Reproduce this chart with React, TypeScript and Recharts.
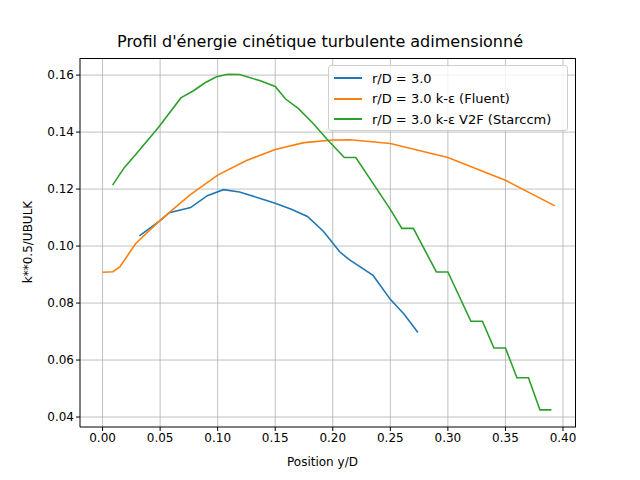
import { LineChart, Line, XAxis, YAxis, CartesianGrid } from 'recharts';

const X_TICKS = [0, 0.05, 0.1, 0.15, 0.2, 0.25, 0.3, 0.35, 0.4];
const Y_TICKS = [0.04, 0.06, 0.08, 0.1, 0.12, 0.14, 0.16];

const blueX = [0.032, 0.05, 0.058, 0.0765, 0.091, 0.105, 0.119, 0.137, 0.15, 0.164, 0.178, 0.192, 0.206, 0.214, 0.235, 0.25, 0.262, 0.274];
const blueY = [0.1036, 0.1089, 0.1117, 0.1135, 0.1177, 0.1198, 0.119, 0.1167, 0.115, 0.1129, 0.1104, 0.1051, 0.098, 0.0953, 0.0897, 0.0813, 0.0761, 0.0697];

const orangeX = [0, 0.009, 0.015, 0.029, 0.05, 0.0757, 0.1, 0.125, 0.15, 0.175, 0.2, 0.215, 0.25, 0.3, 0.351, 0.393];
const orangeY = [0.0908, 0.091, 0.0927, 0.101, 0.109, 0.1179, 0.1249, 0.13, 0.1339, 0.1363, 0.1372, 0.1373, 0.136, 0.1311, 0.1229, 0.1141];

const greenX = [0.0087, 0.019, 0.029, 0.049, 0.068, 0.079, 0.089, 0.099, 0.109, 0.119, 0.137, 0.15, 0.159, 0.17, 0.183, 0.195, 0.21, 0.22, 0.25, 0.26, 0.27, 0.29, 0.3, 0.32, 0.33, 0.34, 0.35, 0.36, 0.37, 0.38, 0.39];
const greenY = [0.1214, 0.1276, 0.1322, 0.1419, 0.152, 0.1545, 0.1573, 0.1594, 0.1603, 0.1602, 0.158, 0.156, 0.1516, 0.1483, 0.143, 0.1375, 0.1311, 0.1311, 0.1129, 0.1062, 0.1062, 0.0909, 0.0909, 0.0736, 0.0736, 0.0642, 0.0642, 0.0538, 0.0538, 0.0425, 0.0425];

const SERIES = [
  { name: 'r/D = 3.0', color: '#1f77b4', xs: blueX, ys: blueY },
  { name: 'r/D = 3.0 k-ε (Fluent)', color: '#ff7f0e', xs: orangeX, ys: orangeY },
  { name: 'r/D = 3.0 k-ε V2F (Starccm)', color: '#2ca02c', xs: greenX, ys: greenY },
];

const font = '"DejaVu Sans", sans-serif';

export default function App() {
  return (
    <div style={{ position: 'absolute', left: 0, top: 0, width: 640, height: 480, background: '#fff', fontFamily: font }}>
      <div style={{ position: 'absolute', top: 32, width: 640, textAlign: 'center', fontSize: 16 }}>
        Profil d'énergie cinétique turbulente adimensionné
      </div>
      <LineChart width={640} height={480} margin={{ top: 58, right: 64, bottom: 23, left: 20 }}>
        <CartesianGrid stroke="#b0b0b0" strokeWidth={0.8} horizontalValues={Y_TICKS} verticalValues={X_TICKS} />
        <XAxis
          type="number"
          dataKey="x"
          domain={[-0.0196, 0.4113]}
          ticks={X_TICKS}
          tickFormatter={(v) => v.toFixed(2)}
          allowDataOverflow
          height={30}
          stroke="#000"
          tick={{ fill: '#000', fontSize: 12, fontFamily: font }}
          tickSize={4}
        />
        <YAxis
          type="number"
          dataKey="y"
          domain={[0.0365, 0.166]}
          ticks={Y_TICKS}
          tickFormatter={(v) => v.toFixed(2)}
          allowDataOverflow
          width={60}
          stroke="#000"
          tick={{ fill: '#000', fontSize: 12, fontFamily: font }}
          tickSize={4}
        />
        {SERIES.map((s) => (
          <Line
            key={s.name}
            data={s.xs.map((x, i) => ({ x, y: s.ys[i] }))}
            dataKey="y"
            type="linear"
            stroke={s.color}
            strokeWidth={1.6}
            dot={false}
            isAnimationActive={false}
          />
        ))}
      </LineChart>
      {/* top/right spines */}
      <div
        style={{
          position: 'absolute', left: 80, top: 58, width: 496, height: 369, boxSizing: 'border-box',
          borderTop: '1px solid #000', borderRight: '1px solid #000', pointerEvents: 'none',
        }}
      />
      <div style={{ position: 'absolute', left: 287, top: 455, fontSize: 12 }}>Position y/D</div>
      <div
        style={{
          position: 'absolute', left: 28, top: 242, fontSize: 12, whiteSpace: 'nowrap',
          transform: 'translate(-50%, -50%) rotate(-90deg)',
        }}
      >
        k**0.5/UBULK
      </div>
      <div
        style={{
          position: 'absolute', left: 328, top: 65, width: 240, height: 66, background: 'rgba(255,255,255,0.8)',
          border: '1px solid #d0d0d0', borderRadius: 3, fontSize: 13, boxSizing: 'border-box', padding: '2px 0 0 5px',
        }}
      >
        {SERIES.map((s) => (
          <div key={s.name} style={{ display: 'flex', alignItems: 'center', height: 20.5 }}>
            <span style={{ display: 'inline-block', width: 28, height: 2, background: s.color, marginRight: 10 }} />
            {s.name}
          </div>
        ))}
      </div>
    </div>
  );
}
